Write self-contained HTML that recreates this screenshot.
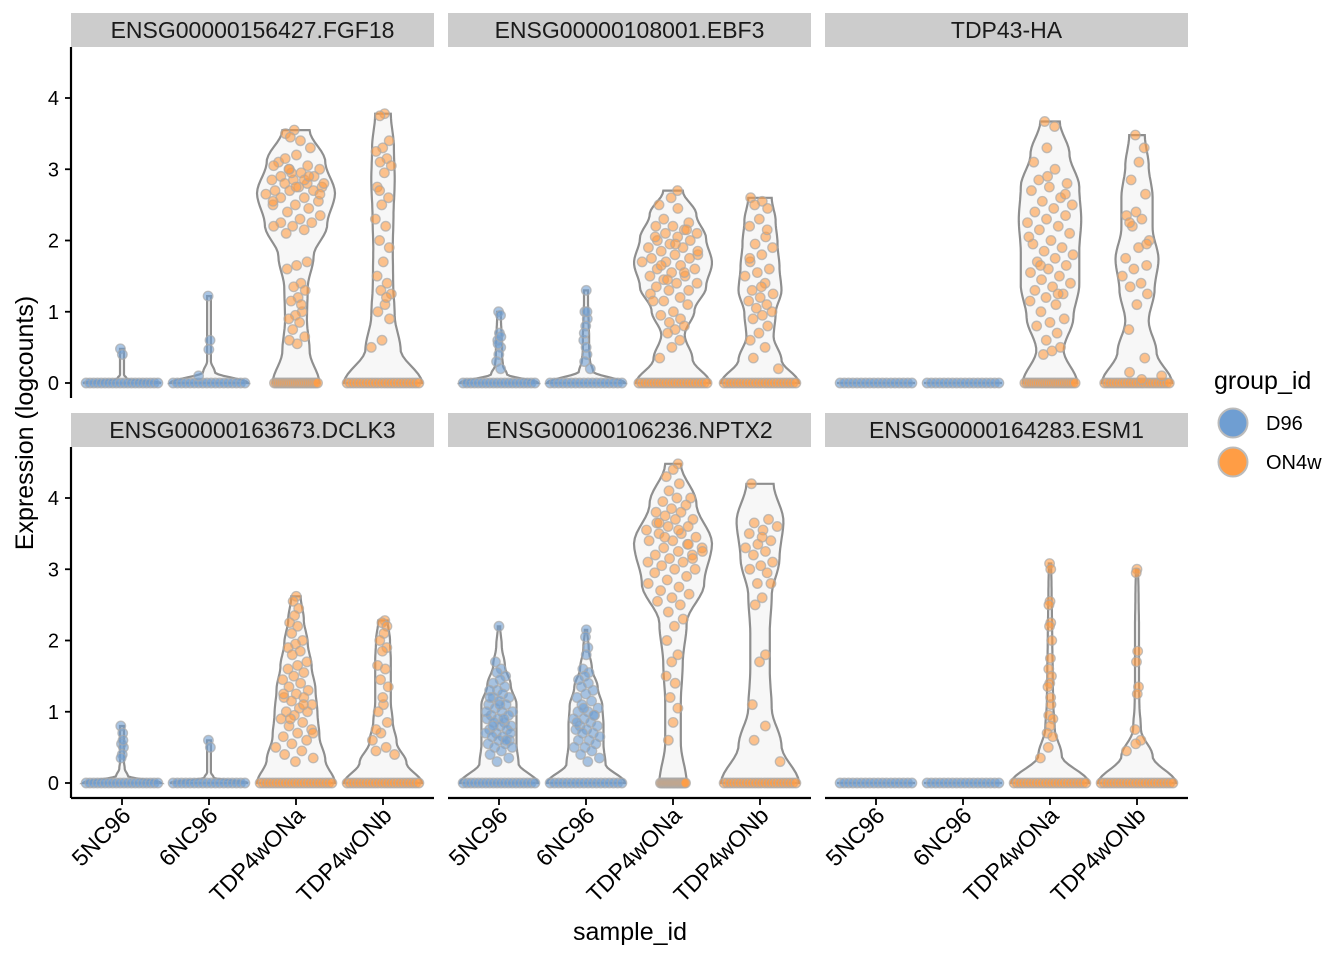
<!DOCTYPE html>
<html><head><meta charset="utf-8">
<style>
html,body{margin:0;padding:0;background:#fff;}
svg{display:block;font-family:"Liberation Sans",Arial,sans-serif;}
</style></head>
<body>
<svg id="chart" width="1344" height="960" viewBox="0 0 1344 960"></svg>
<script>
// ---- data ----
const panelTitles = ["ENSG00000156427.FGF18","ENSG00000108001.EBF3","TDP43-HA","ENSG00000163673.DCLK3","ENSG00000106236.NPTX2","ENSG00000164283.ESM1"];
const categories = ["5NC96","6NC96","TDP4wONa","TDP4wONb"];
const catGroup = ["D96","D96","ON4w","ON4w"];
const yTicks = [0,1,2,3,4];
const violinMax = [
 [0.48,1.22,3.55,3.78],
 [1.0,1.3,2.7,2.6],
 [0,0,3.67,3.48],
 [0.8,0.6,2.62,2.28],
 [2.2,2.15,4.48,4.2],
 [0,0,3.08,3.0]
];
const violinProfiles = [
 [[1,0.12,0.05,0.05,0.05,0.05,0.05,0.05,0.05],[1,0.15,0.05,0.05,0.05,0.05,0.05,0.05,0.05],[0.6,0.35,0.28,0.3,0.45,0.8,1.0,0.75,0.35],[1,0.45,0.3,0.26,0.25,0.27,0.3,0.28,0.2]],
 [[1,0.2,0.1,0.08,0.08,0.07,0.06,0.05,0.05],[1,0.18,0.1,0.08,0.08,0.07,0.06,0.05,0.05],[0.95,0.5,0.3,0.55,0.85,1.0,0.85,0.6,0.25],[1.0,0.55,0.35,0.4,0.55,0.5,0.45,0.4,0.3]],
 [[1,1,1,1,1,1,1,1,1],[1,1,1,1,1,1,1,1,1],[0.7,0.35,0.6,0.75,0.75,0.8,0.75,0.5,0.25],[0.9,0.5,0.3,0.45,0.55,0.4,0.4,0.3,0.2]],
 [[1,0.15,0.07,0.05,0.05,0.05,0.05,0.05,0.05],[1,0.12,0.05,0.05,0.05,0.05,0.05,0.05,0.05],[1.0,0.75,0.6,0.55,0.5,0.4,0.3,0.2,0.12],[1.0,0.6,0.35,0.25,0.2,0.2,0.2,0.18,0.12]],
 [[1.0,0.5,0.45,0.45,0.45,0.3,0.15,0.07,0.03],[1.0,0.5,0.45,0.45,0.42,0.3,0.15,0.07,0.03],[0.35,0.2,0.2,0.25,0.35,0.8,1.0,0.6,0.2],[1.0,0.55,0.3,0.25,0.25,0.3,0.5,0.6,0.35]],
 [[1,1,1,1,1,1,1,1,1],[1,1,1,1,1,1,1,1,1],[1.0,0.3,0.12,0.08,0.07,0.06,0.05,0.04,0.03],[1.0,0.4,0.1,0.06,0.05,0.05,0.05,0.04,0.03]]
];
const zeroCounts = [
 [20,18,24,24],[20,18,24,24],[18,18,24,24],[20,18,24,24],[20,18,24,24],[18,18,24,24]
];
const nonZero = [
 [[0.48,0.4],[1.22,0.6,0.47,0.1],
  [3.55,3.5,3.4,3.45,3.3,3.2,3.1,3.05,3.0,3.0,2.95,2.9,2.9,2.85,2.85,2.8,2.8,2.75,2.75,2.7,2.7,2.7,2.65,2.6,2.6,2.55,2.5,2.5,2.45,2.4,2.35,2.3,2.25,2.25,2.2,2.2,2.15,2.1,1.7,1.65,1.6,1.4,1.35,1.3,1.2,1.15,1.0,0.95,0.9,0.85,0.75,0.65,0.55,0.6,1.1,2.95,3.05,2.85,3.15,2.65,2.75,2.55,2.9,3.0,2.8],
  [3.78,3.75,3.4,3.3,3.25,3.15,3.1,3.05,2.95,2.75,2.6,2.5,2.3,2.2,2.0,1.9,1.7,1.5,1.4,1.3,1.25,1.1,1.0,0.9,0.6,0.5,1.2,2.7]],
 [[1.0,0.95,0.7,0.6,0.5,0.4,0.3,0.2,0.55,0.65],[1.3,1.0,0.9,0.8,0.6,0.4,0.3,0.2,0.5,0.7,1.0],
  [2.7,2.6,2.5,2.45,2.3,2.25,2.2,2.2,2.15,2.1,2.1,2.05,2.0,2.0,1.95,1.9,1.9,1.85,1.8,1.8,1.75,1.75,1.7,1.7,1.65,1.6,1.6,1.55,1.5,1.5,1.45,1.4,1.4,1.35,1.3,1.3,1.25,1.2,1.15,1.1,1.0,0.95,0.9,0.85,0.8,0.75,0.7,0.6,0.5,0.35,1.55,1.65,1.85,1.95,2.05,2.15,1.45,1.15],
  [2.6,2.55,2.5,2.45,2.3,2.2,2.05,1.95,1.9,1.8,1.7,1.6,1.55,1.5,1.4,1.3,1.25,1.2,1.15,1.1,1.05,1.0,0.95,0.9,0.8,0.7,0.6,0.5,0.35,0.2,1.35,1.75,2.15]],
 [[],[],
  [3.67,3.6,3.3,3.1,3.0,2.85,2.8,2.75,2.7,2.6,2.55,2.5,2.45,2.4,2.35,2.3,2.25,2.2,2.15,2.1,2.0,1.95,1.9,1.85,1.8,1.75,1.7,1.65,1.6,1.55,1.5,1.45,1.4,1.35,1.3,1.25,1.2,1.15,1.1,1.0,0.9,0.85,0.8,0.7,0.6,0.5,0.45,0.4,2.65,2.9,2.05,1.25,1.65],
  [3.48,3.3,3.1,2.85,2.65,2.4,2.35,2.3,2.2,2.0,1.9,1.75,1.65,1.6,1.5,1.4,1.35,1.25,1.1,0.75,0.35,0.15,0.1,0.05,2.25,1.95]],
 [[0.8,0.7,0.55,0.5,0.4,0.35,0.6],[0.6,0.5],
  [2.62,2.55,2.45,2.35,2.25,2.2,2.1,2.0,1.95,1.9,1.85,1.8,1.7,1.65,1.6,1.55,1.5,1.45,1.4,1.35,1.3,1.25,1.2,1.2,1.15,1.1,1.05,1.0,1.0,0.95,0.9,0.85,0.8,0.75,0.7,0.65,0.6,0.55,0.5,0.45,0.4,0.35,0.3,1.25,1.1,0.9,0.7],
  [2.28,2.25,2.2,2.1,2.0,1.9,1.85,1.65,1.6,1.45,1.35,1.1,1.0,0.85,0.7,0.6,0.5,0.45,0.4,1.2,0.75]],
 [[2.2,1.7,1.6,1.55,1.5,1.45,1.4,1.35,1.3,1.3,1.25,1.2,1.2,1.15,1.1,1.1,1.05,1.0,1.0,0.95,0.95,0.9,0.9,0.85,0.85,0.8,0.8,0.75,0.75,0.7,0.7,0.65,0.65,0.6,0.6,0.55,0.55,0.5,0.5,0.45,0.4,0.35,0.3,1.0,0.9,0.8,0.7,1.1,1.2,0.6],
  [2.15,2.05,1.9,1.8,1.6,1.55,1.5,1.45,1.4,1.35,1.3,1.25,1.2,1.15,1.1,1.05,1.0,1.0,0.95,0.9,0.9,0.85,0.8,0.8,0.75,0.75,0.7,0.7,0.65,0.6,0.6,0.55,0.5,0.5,0.45,0.4,0.35,0.3,0.85,0.95,1.05],
  [4.48,4.4,4.3,4.2,4.1,4.0,4.0,3.95,3.9,3.85,3.8,3.8,3.75,3.7,3.7,3.65,3.6,3.6,3.55,3.5,3.5,3.45,3.4,3.4,3.35,3.3,3.3,3.25,3.2,3.2,3.15,3.1,3.1,3.05,3.0,3.0,2.95,2.9,2.85,2.8,2.75,2.7,2.65,2.6,2.55,2.5,2.4,2.3,2.2,2.0,1.8,1.7,1.5,1.4,1.2,1.05,0.85,0.6,3.35,3.45,3.25,3.55,3.65,3.15],
  [4.2,3.7,3.65,3.6,3.55,3.5,3.4,3.35,3.3,3.25,3.2,3.1,3.05,3.0,2.95,2.8,2.8,2.6,2.5,1.8,1.7,1.1,0.8,0.6,0.3,3.45]],
 [[],[],
  [3.08,3.0,2.55,2.5,2.25,2.2,2.0,1.75,1.6,1.5,1.4,1.35,1.1,0.95,0.9,0.8,0.7,0.65,0.5,0.35,1.2],
  [3.0,2.95,1.85,1.7,1.35,1.25,0.75,0.6,0.55,0.45]]
];
const groupColors = {D96:"#6F9ED2", ON4w:"#FF9D45"};

// ---- layout ----
const NS="http://www.w3.org/2000/svg";
const svg=document.getElementById('chart');
function mk(tag,attrs,parent){const e=document.createElementNS(NS,tag);for(const k in attrs)e.setAttribute(k,attrs[k]);(parent||svg).appendChild(e);return e;}
const panelX=[71,448,825], panelW=363;
const rowTop=[47,447], rowH=351, stripH=34;
const maxHalf=39, PR=4.8;
function yScale(row,v){return rowTop[row]+336-v*71.25;}
function xScale(col,i){return panelX[col]+51+i*87;}

panelTitles.forEach((t,p)=>{
  const col=p%3,row=Math.floor(p/3);
  const g=mk('g',{});
  
  
  const st=mk('rect',{x:panelX[col],y:rowTop[row]-stripH,width:panelW,height:stripH,fill:'#CCCCCC'},g);
  
  
  const tt=mk('text',{x:panelX[col]+panelW/2,y:rowTop[row]-stripH/2+8,'text-anchor':'middle','font-size':23,fill:'#1a1a1a'},g);
  tt.textContent=t;
  
  
  categories.forEach((c,i)=>{
    const cx=xScale(col,i), mx=violinMax[p][i], prof=violinProfiles[p][i];
    const color=groupColors[catGroup[i]];
    function hw(v){ if(mx<=0) return prof[0]*maxHalf; const f=Math.max(0,Math.min(1,v/mx))*(prof.length-1); const k=Math.min(prof.length-2,Math.floor(f)); const u=f-k; const s=u*u*(3-2*u); return (prof[k]*(1-s)+prof[k+1]*s)*maxHalf;}
    let d;
    if(mx<=0){ const y0=yScale(row,0); d=`M${cx-maxHalf},${y0}L${cx+maxHalf},${y0}`; }
    else{
      const N=60,L=[],R=[];
      for(let j=0;j<=N;j++){const v=mx*j/N;const y=yScale(row,v);const w=hw(v);R.push(`${(cx+w).toFixed(1)},${y.toFixed(1)}`);L.push(`${(cx-w).toFixed(1)},${y.toFixed(1)}`);}
      d='M'+R.join('L')+'L'+L.reverse().join('L')+'Z';
    }
    const vp=mk('path',{d:d,fill:'#F7F7F7',stroke:'#8f8f8f','stroke-width':2.2},g);
    
    
    const nz=zeroCounts[p][i], w0=hw(0)*0.92;
    for(let j=0;j<nz;j++){
      const x=cx-w0+ (2*w0)*(j/(nz-1));
      const pt=mk('circle',{cx:x,cy:yScale(row,0),r:PR,fill:color,'fill-opacity':0.65,stroke:'#aaa','stroke-opacity':0.7,'stroke-width':1.3},g);
      
      
    }
    nonZero[p][i].forEach((v,j)=>{
      const r=((j*0.61803+0.37*p+0.21*i)%1)*2-1;
      const x=cx+r*hw(v)*0.8;
      const pt=mk('circle',{cx:x,cy:yScale(row,v),r:PR,fill:color,'fill-opacity':0.6,stroke:'#aaa','stroke-opacity':0.7,'stroke-width':1.3},g);
      
      
    });
  });
  if(col===0){
    const ax=mk('line',{x1:71,y1:rowTop[row],x2:71,y2:rowTop[row]+rowH,stroke:'#000','stroke-width':2.2},g);
    
    
    yTicks.forEach(tv=>{
      const y=yScale(row,tv);
      mk('line',{x1:65,y1:y,x2:71,y2:y,stroke:'#000','stroke-width':1.8},g);
      const tl=mk('text',{x:59,y:y+7,'text-anchor':'end','font-size':20,fill:'#000'},g);
      tl.textContent=tv;
      
      
    });
  }
  if(row===1){
    const ax=mk('line',{x1:panelX[col],y1:798,x2:panelX[col]+panelW,y2:798,stroke:'#000','stroke-width':2.2},g);
    
    
    categories.forEach((c,i)=>{
      const x=xScale(col,i);
      mk('line',{x1:x,y1:798,x2:x,y2:805,stroke:'#000','stroke-width':1.8},g);
      const tl=mk('text',{transform:`translate(${x+10},${817}) rotate(-45)`,'text-anchor':'end','font-size':23,fill:'#000'},g);
      tl.textContent=c;
      
      
    });
  }
});
const xt=mk('text',{x:630,y:940,'text-anchor':'middle','font-size':25,fill:'#000'});
xt.textContent='sample_id';


const yt=mk('text',{transform:'translate(33,423) rotate(-90)','text-anchor':'middle','font-size':25,fill:'#000'});
yt.textContent='Expression (logcounts)';


const lg=mk('g',{});


const lt=mk('text',{x:1214,y:389,'font-size':25,fill:'#000'},lg);
lt.textContent='group_id';


["D96","ON4w"].forEach((k,i)=>{
  const y=423+i*39;
  const c=mk('circle',{cx:1233,cy:y,r:14.5,fill:groupColors[k],stroke:'#bbb','stroke-width':2},lg);
  
  
  const t=mk('text',{x:1266,y:y+7,'font-size':20,fill:'#000'},lg);
  t.textContent=k;
  
  
});
</script>
</body></html>
